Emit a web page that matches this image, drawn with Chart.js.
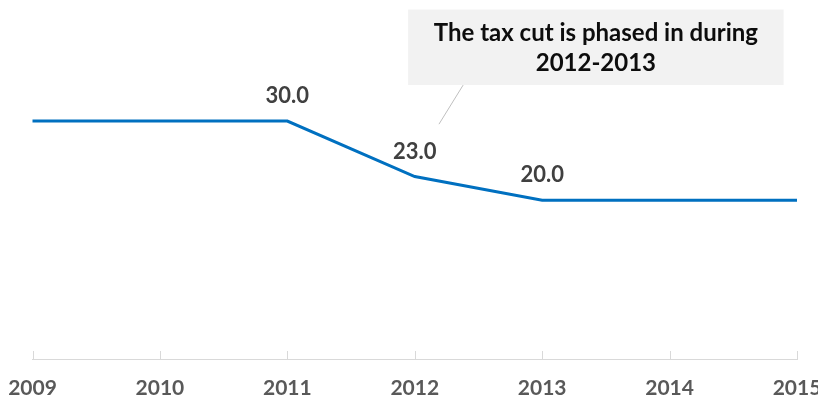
<!DOCTYPE html>
<html>
<head>
<meta charset="utf-8">
<script src="https://cdn.jsdelivr.net/npm/chart.js@4.4.1/dist/chart.umd.min.js"></script>
<style>
  html, body { margin: 0; padding: 0; background: #ffffff; overflow: hidden; }
  #wrap { width: 822px; height: 398px; }
</style>
</head>
<body>
<div id="wrap"><canvas id="chart" width="822" height="398"></canvas></div>
<script>
// Corporate tax rate (%) by year
const years = ['2009', '2010', '2011', '2012', '2013', '2014', '2015'];
const taxRate = [30, 30, 30, 23, 20, 20, 20];
// Years whose value is written above the line
const labelledYears = ['2011', '2012', '2013'];

const calloutLines = ['The tax cut is phased in during', '2012-2013'];
// Callout placement in axis units: category index (x) and rate (y)
const calloutBox = { x0: 2.948, x1: 5.895, y0: 44.05, y1: 34.53 };
const calloutPointer = { fromX: 3.38, fromY: 34.53, toX: 3.19, toY: 29.6 };

const FONT = 'Lato, "Open Sans", sans-serif';

// Short upward tick marks on the category axis
const upTicks = {
  id: 'upTicks',
  afterDraw(chart) {
    const xs = chart.scales.x;
    const ctx = chart.ctx;
    const yAxis = chart.chartArea.bottom;
    ctx.save();
    ctx.strokeStyle = '#d9d9d9';
    ctx.lineWidth = 1;
    xs.ticks.forEach((t, i) => {
      const px = Math.round(xs.getPixelForTick(i)) + 0.5;
      ctx.beginPath();
      ctx.moveTo(px, yAxis);
      ctx.lineTo(px, yAxis - 8);
      ctx.stroke();
    });
    ctx.restore();
  }
};

// Value labels above selected points
const valueLabels = {
  id: 'valueLabels',
  afterDatasetsDraw(chart) {
    const meta = chart.getDatasetMeta(0);
    const ctx = chart.ctx;
    ctx.save();
    ctx.font = 'bold 22px ' + FONT;
    ctx.fillStyle = '#404040';
    ctx.textAlign = 'center';
    ctx.textBaseline = 'middle';
    years.forEach((yr, i) => {
      if (!labelledYears.includes(yr)) return;
      const pt = meta.data[i];
      ctx.fillText(taxRate[i].toFixed(1), pt.x, pt.y - 25);
    });
    ctx.restore();
  }
};

// Grey callout with a thin pointer line
const callout = {
  id: 'callout',
  afterDatasetsDraw(chart) {
    const xs = chart.scales.x, ys = chart.scales.y;
    const ctx = chart.ctx;
    const left = xs.getPixelForValue(calloutBox.x0);
    const right = xs.getPixelForValue(calloutBox.x1);
    const top = ys.getPixelForValue(calloutBox.y0);
    const bottom = ys.getPixelForValue(calloutBox.y1);
    ctx.save();
    ctx.strokeStyle = '#bfbfbf';
    ctx.lineWidth = 1;
    ctx.beginPath();
    ctx.moveTo(xs.getPixelForValue(calloutPointer.fromX), ys.getPixelForValue(calloutPointer.fromY));
    ctx.lineTo(xs.getPixelForValue(calloutPointer.toX), ys.getPixelForValue(calloutPointer.toY));
    ctx.stroke();
    ctx.fillStyle = '#f2f2f2';
    ctx.fillRect(left, top, right - left, bottom - top);
    ctx.fillStyle = '#0d0d0d';
    ctx.font = 'bold 24px ' + FONT;
    ctx.textAlign = 'center';
    ctx.textBaseline = 'middle';
    const cx = (left + right) / 2;
    const cy = (top + bottom) / 2 + 1;
    const gap = 30;
    calloutLines.forEach((line, i) => {
      ctx.fillText(line, cx, cy + (i - (calloutLines.length - 1) / 2) * gap);
    });
    ctx.restore();
  }
};

new Chart(document.getElementById('chart'), {
  type: 'line',
  data: {
    labels: years,
    datasets: [{
      data: taxRate,
      borderColor: '#0070c0',
      borderWidth: 3,
      pointRadius: 0,
      tension: 0,
      fill: false
    }]
  },
  options: {
    responsive: false,
    animation: false,
    devicePixelRatio: 1,
    layout: { padding: { left: 32.5, right: 25, top: 2, bottom: 0 } },
    plugins: { legend: { display: false }, tooltip: { enabled: false } },
    scales: {
      x: {
        offset: false,
        grid: { drawOnChartArea: false, drawTicks: false },
        border: { display: true, color: '#d9d9d9', width: 1 },
        ticks: {
          color: '#595959',
          font: { family: FONT, size: 21, weight: 'bold', lineHeight: 1 },
          padding: 19,
          maxRotation: 0,
          autoSkip: false
        },
        afterFit(scale) {
          // fixed label band; edge labels may run past the plot edges
          scale.height = 39;
          scale.paddingLeft = 0;
          scale.paddingRight = 0;
        }
      },
      y: {
        display: false,
        min: 0,
        max: 45
      }
    }
  },
  plugins: [upTicks, valueLabels, callout]
});
</script>
</body>
</html>
